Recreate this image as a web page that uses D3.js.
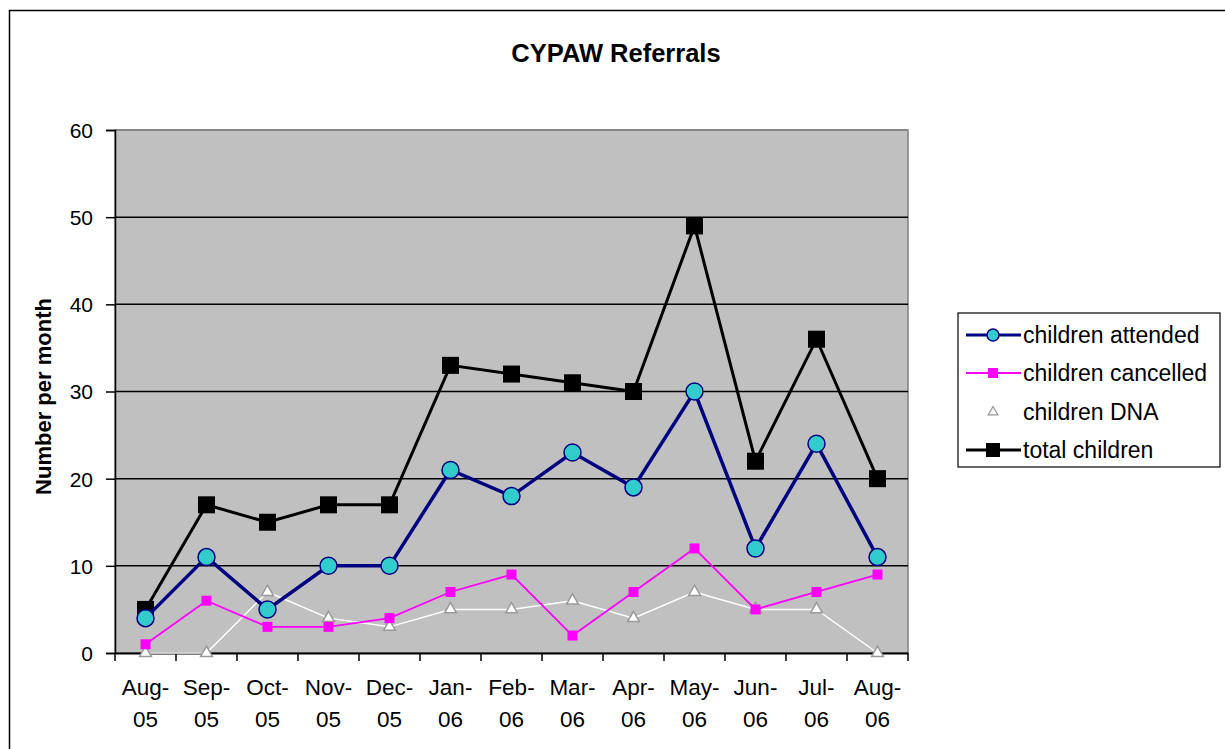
<!DOCTYPE html>
<html><head><meta charset="utf-8">
<script src="https://cdn.jsdelivr.net/npm/d3@7/dist/d3.min.js"></script>
<style>body{margin:0;background:#fff;font-family:"Liberation Sans",Arial,sans-serif;}</style>
</head><body>
<svg id="chart" width="1225" height="749" font-family="Liberation Sans, Arial, sans-serif"></svg>
<script>
const months = ["Aug-|05","Sep-|05","Oct-|05","Nov-|05","Dec-|05","Jan-|06","Feb-|06","Mar-|06","Apr-|06","May-|06","Jun-|06","Jul-|06","Aug-|06"];
const attended  = [4, 11, 5, 10, 10, 21, 18, 23, 19, 30, 12, 24, 11];
const cancelled = [1, 6, 3, 3, 4, 7, 9, 2, 7, 12, 5, 7, 9];
const dna       = [0, 0, 7, 4, 3, 5, 5, 6, 4, 7, 5, 5, 0];
const total     = [5, 17, 15, 17, 17, 33, 32, 31, 30, 49, 22, 36, 20];
const yTicks = [0, 10, 20, 30, 40, 50, 60];
const seriesNames = ["children attended", "children cancelled", "children DNA", "total children"];

const svg = d3.select("#chart");
const L = 115, R = 908, T = 130, B = 653;

// outer border
svg.append("rect").attr("x", 9.5).attr("y", 10.5).attr("width", 1230).attr("height", 760)
  .attr("fill", "#fff").attr("stroke", "#000").attr("stroke-width", 1.5);

svg.append("text").attr("x", 616).attr("y", 62).attr("text-anchor", "middle")
  .attr("font-size", 25.5).attr("font-weight", "bold").text("CYPAW Referrals");

const x = d3.scaleBand().domain(months).range([L, R]);
const y = d3.scaleLinear().domain([0, 60]).range([B, T]);
const cx = (i) => x(months[i]) + x.bandwidth() / 2;

// plot area
svg.append("rect").attr("x", L).attr("y", T).attr("width", R - L).attr("height", B - T)
  .attr("fill", "#C0C0C0").attr("stroke", "#808080").attr("stroke-width", 1.5);

// gridlines
svg.append("g").selectAll("line").data(yTicks.filter(d => d > 0)).join("line")
  .attr("x1", L).attr("x2", R).attr("y1", d => y(d)).attr("y2", d => y(d))
  .attr("stroke", d => d === 60 ? "#808080" : "#000").attr("stroke-width", 1.5);

// y axis
const yAxis = d3.axisLeft(y).tickValues(yTicks).tickSize(9).tickPadding(13).tickFormat(d3.format("d"));
const gy = svg.append("g").attr("transform", `translate(${L},0)`).call(yAxis);
gy.attr("font-family", null);
gy.select(".domain").attr("stroke", "#000").attr("stroke-width", 1.5);
gy.selectAll(".tick line").attr("stroke", "#000").attr("stroke-width", 1.5);
gy.selectAll(".tick text").attr("font-size", 21).attr("fill", "#000").attr("dy", "0.35em");

// x axis
const xAxis = d3.axisBottom(x).tickSize(0).tickFormat("");
const gx = svg.append("g").attr("transform", `translate(0,${B})`).call(xAxis);
gx.select(".domain").attr("stroke", "#000").attr("stroke-width", 2);
// ticks at band boundaries
const bounds = months.map(m => x(m)).concat([R]);
svg.append("g").selectAll("line").data(bounds).join("line")
  .attr("x1", d => d).attr("x2", d => d).attr("y1", B).attr("y2", B + 8)
  .attr("stroke", "#000").attr("stroke-width", 1.5);
const xl = svg.append("g").selectAll("text").data(months).join("text")
  .attr("x", (d, i) => cx(i)).attr("text-anchor", "middle").attr("font-size", 22.5);
xl.append("tspan").attr("x", (d, i) => cx(i)).attr("y", 695).text(d => d.split("|")[0]);
xl.append("tspan").attr("x", (d, i) => cx(i)).attr("y", 727).text(d => d.split("|")[1]);

// y title
svg.append("text").attr("transform", `translate(51,${(T + B) / 2 + 5}) rotate(-90)`)
  .attr("text-anchor", "middle").attr("font-size", 22).attr("font-weight", "bold")
  .text("Number per month");

const line = d3.line().x((d, i) => cx(i)).y(d => y(d));

// DNA
svg.append("path").datum(dna).attr("d", line).attr("fill", "none").attr("stroke", "#fff").attr("stroke-width", 1.5);
const tri = d3.symbol().type(d3.symbolTriangle).size(60);
svg.append("g").selectAll("path").data(dna).join("path")
  .attr("d", tri).attr("transform", (d, i) => `translate(${cx(i)},${y(d)})`)
  .attr("fill", "#fff").attr("stroke", "#999").attr("stroke-width", 1.5);

// cancelled
svg.append("path").datum(cancelled).attr("d", line).attr("fill", "none").attr("stroke", "#FF00FF").attr("stroke-width", 1.8);
svg.append("g").selectAll("rect").data(cancelled).join("rect")
  .attr("x", (d, i) => cx(i) - 5).attr("y", d => y(d) - 5).attr("width", 10).attr("height", 10)
  .attr("fill", "#FF00FF");

// total
svg.append("path").datum(total).attr("d", line).attr("fill", "none").attr("stroke", "#000").attr("stroke-width", 3);
svg.append("g").selectAll("rect").data(total).join("rect")
  .attr("x", (d, i) => cx(i) - 8.5).attr("y", d => y(d) - 8.5).attr("width", 17).attr("height", 17)
  .attr("fill", "#000");

// attended
svg.append("path").datum(attended).attr("d", line).attr("fill", "none").attr("stroke", "#000080").attr("stroke-width", 3.5);
svg.append("g").selectAll("circle").data(attended).join("circle")
  .attr("cx", (d, i) => cx(i)).attr("cy", d => y(d)).attr("r", 8.5)
  .attr("fill", "#33CCCC").attr("stroke", "#000080").attr("stroke-width", 1.5);

// legend
const lg = svg.append("g");
lg.append("rect").attr("x", 958).attr("y", 313).attr("width", 262).attr("height", 154)
  .attr("fill", "#fff").attr("stroke", "#000").attr("stroke-width", 1.2);
const ly = [335, 373, 412, 450];
const lx1 = 966, lx2 = 1021, lm = 993;
seriesNames.forEach((name, k) => {
  const yy = ly[k];
  if (k === 0) {
    lg.append("line").attr("x1", lx1).attr("x2", lx2).attr("y1", yy).attr("y2", yy).attr("stroke", "#000080").attr("stroke-width", 3);
    lg.append("circle").attr("cx", lm).attr("cy", yy).attr("r", 6).attr("fill", "#33CCCC").attr("stroke", "#000080").attr("stroke-width", 1.5);
  } else if (k === 1) {
    lg.append("line").attr("x1", lx1).attr("x2", lx2).attr("y1", yy).attr("y2", yy).attr("stroke", "#FF00FF").attr("stroke-width", 1.8);
    lg.append("rect").attr("x", lm - 5).attr("y", yy - 5).attr("width", 10).attr("height", 10).attr("fill", "#FF00FF");
  } else if (k === 2) {
    lg.append("path").attr("d", d3.symbol().type(d3.symbolTriangle).size(40)).attr("transform", `translate(${lm},${yy})`)
      .attr("fill", "#fff").attr("stroke", "#999").attr("stroke-width", 1.3);
  } else {
    lg.append("line").attr("x1", lx1).attr("x2", lx2).attr("y1", yy).attr("y2", yy).attr("stroke", "#000").attr("stroke-width", 3);
    lg.append("rect").attr("x", lm - 7).attr("y", yy - 7).attr("width", 14).attr("height", 14).attr("fill", "#000");
  }
  lg.append("text").attr("x", 1023).attr("y", yy + 8).attr("font-size", 23).text(name);
});
</script>
</body></html>
